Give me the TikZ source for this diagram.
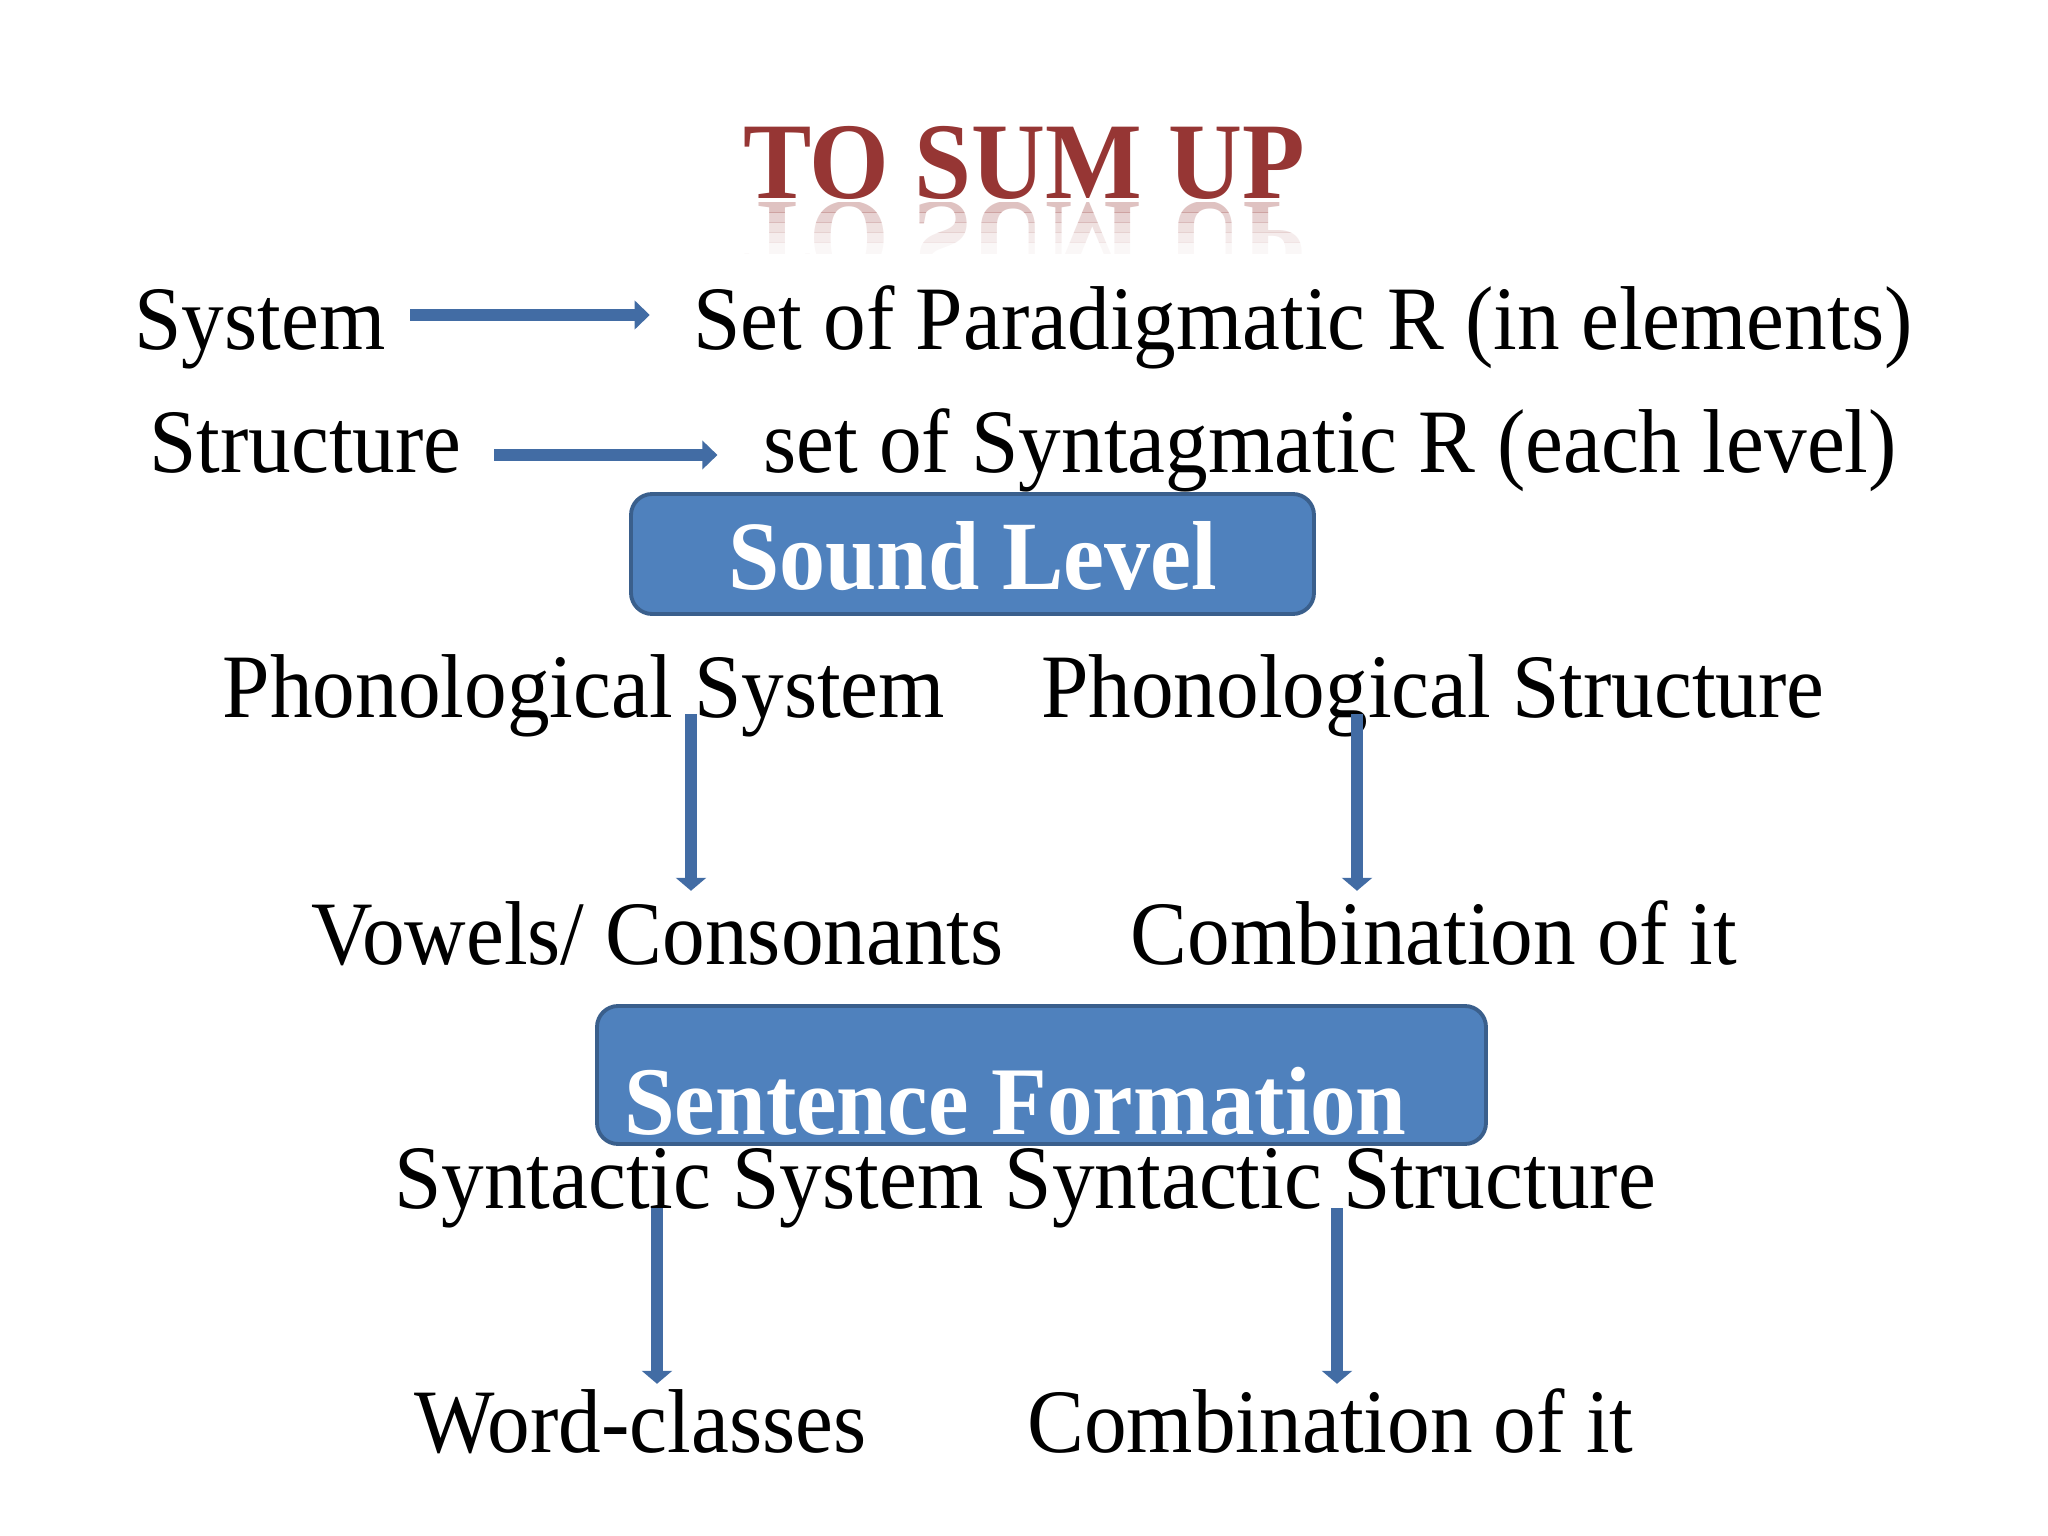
\documentclass[tikz,border=0pt]{standalone}
\usepackage{fontspec}
\setmainfont{Liberation Serif}[FakeStretch=0.94]
\usetikzlibrary{arrows.meta}
\definecolor{sumred}{RGB}{150,54,52}
\definecolor{boxblue}{RGB}{79,129,189}
\definecolor{boxedge}{RGB}{58,95,140}
\definecolor{arrowblue}{RGB}{66,108,164}
\tikzset{txt/.style = {anchor=base, inner sep=0pt, text height=17.5pt, text depth=5.7pt,
                       font=\fontsize{25.8pt}{30pt}\selectfont},
         titletxt/.style = {anchor=base, inner sep=0pt, text=sumred,
                            font=\fontsize{31pt}{36pt}\selectfont\bfseries},
         levelbox/.style = {draw=boxedge, line width=1.1pt, fill=boxblue,
                            rounded corners=6pt, inner sep=0pt},
         boxtxt/.style = {anchor=base, inner sep=0pt, text=white,
                          font=\fontsize{27.9pt}{32pt}\selectfont\bfseries},
         harrow/.style = {arrowblue, line width=3.4pt, -{Triangle[length=4.3pt,width=8pt]}},
         varrow/.style = {arrowblue, line width=3.2pt, -{Triangle[length=3.7pt,width=8.5pt]}}}
\begin{document}
\begin{tikzpicture}
  \useasboundingbox[fill=white] (0,0) rectangle (20.48,-15.36);

  \node[titletxt] (title) at (10.24,-1.99) {TO SUM UP};
  \foreach \i/\op in {0/0.30,1/0.22,2/0.15,3/0.09,4/0.04}{
    \begin{scope}
      \clip (6,-2.03-0.1*\i) rectangle (15,-2.13-0.1*\i);
      \node[titletxt, yscale=-1, opacity=\op] (refl\i) at (10.24,-2.03) {TO SUM UP};
    \end{scope}}

  \node[txt] (system) at (2.60,-3.50) {System};
  \node[txt] (paradig) at (13.03,-3.50) {Set of Paradigmatic R (in elements)};
  \node[txt] (structure) at (3.055,-4.73) {Structure};
  \node[txt] (syntag) at (13.30,-4.73) {set of Syntagmatic R (each level)};
  \draw[harrow] ([shift={(0.24,0.35)}]system.base east) -- ([shift={(-0.43,0.35)}]paradig.base west);
  \draw[harrow] ([shift={(0.32,0.18)}]structure.base east) -- ([shift={(-0.45,0.18)}]syntag.base west);

  \node[levelbox, minimum width=6.83cm, minimum height=1.20cm] (soundbox) at (9.725,-5.54) {};
  \node[boxtxt] (sound) at (9.73,-5.90) {Sound Level};

  \node[txt] (phsys) at (5.84,-7.18) {Phonological System};
  \node[txt] (phstr) at (14.33,-7.18) {Phonological Structure};
  \node[txt] (vowels) at (6.575,-9.64) {Vowels/ Consonants};
  \node[txt] (comb1) at (14.34,-9.64) {Combination of it};
  \coordinate (v1) at (6.91,0);
  \coordinate (v2) at (13.57,0);
  \draw[varrow] ([yshift=0.04cm]phsys.base -| v1) -- ([yshift=0.11cm]vowels.north -| v1);
  \draw[varrow] ([yshift=0.04cm]phstr.base -| v2) -- ([yshift=0.11cm]comb1.north -| v2);

  \node[levelbox, minimum width=8.89cm, minimum height=1.38cm] (sentbox) at (10.415,-10.75) {};
  \node[boxtxt, font=\fontsize{27.6pt}{32pt}\selectfont\bfseries] (sent) at (10.155,-11.34) {Sentence Formation};

  \node[txt] (syntax) at (10.25,-12.08) {Syntactic System Syntactic Structure};
  \node[txt] (words) at (6.405,-14.52) {Word-classes};
  \node[txt] (comb2) at (13.305,-14.52) {Combination of it};
  \coordinate (v3) at (6.57,0);
  \coordinate (v4) at (13.37,0);
  \draw[varrow] (syntax.base -| v3) -- ([yshift=0.06cm]words.north -| v3);
  \draw[varrow] (syntax.base -| v4) -- ([yshift=0.06cm]comb2.north -| v4);
\end{tikzpicture}
\end{document}
